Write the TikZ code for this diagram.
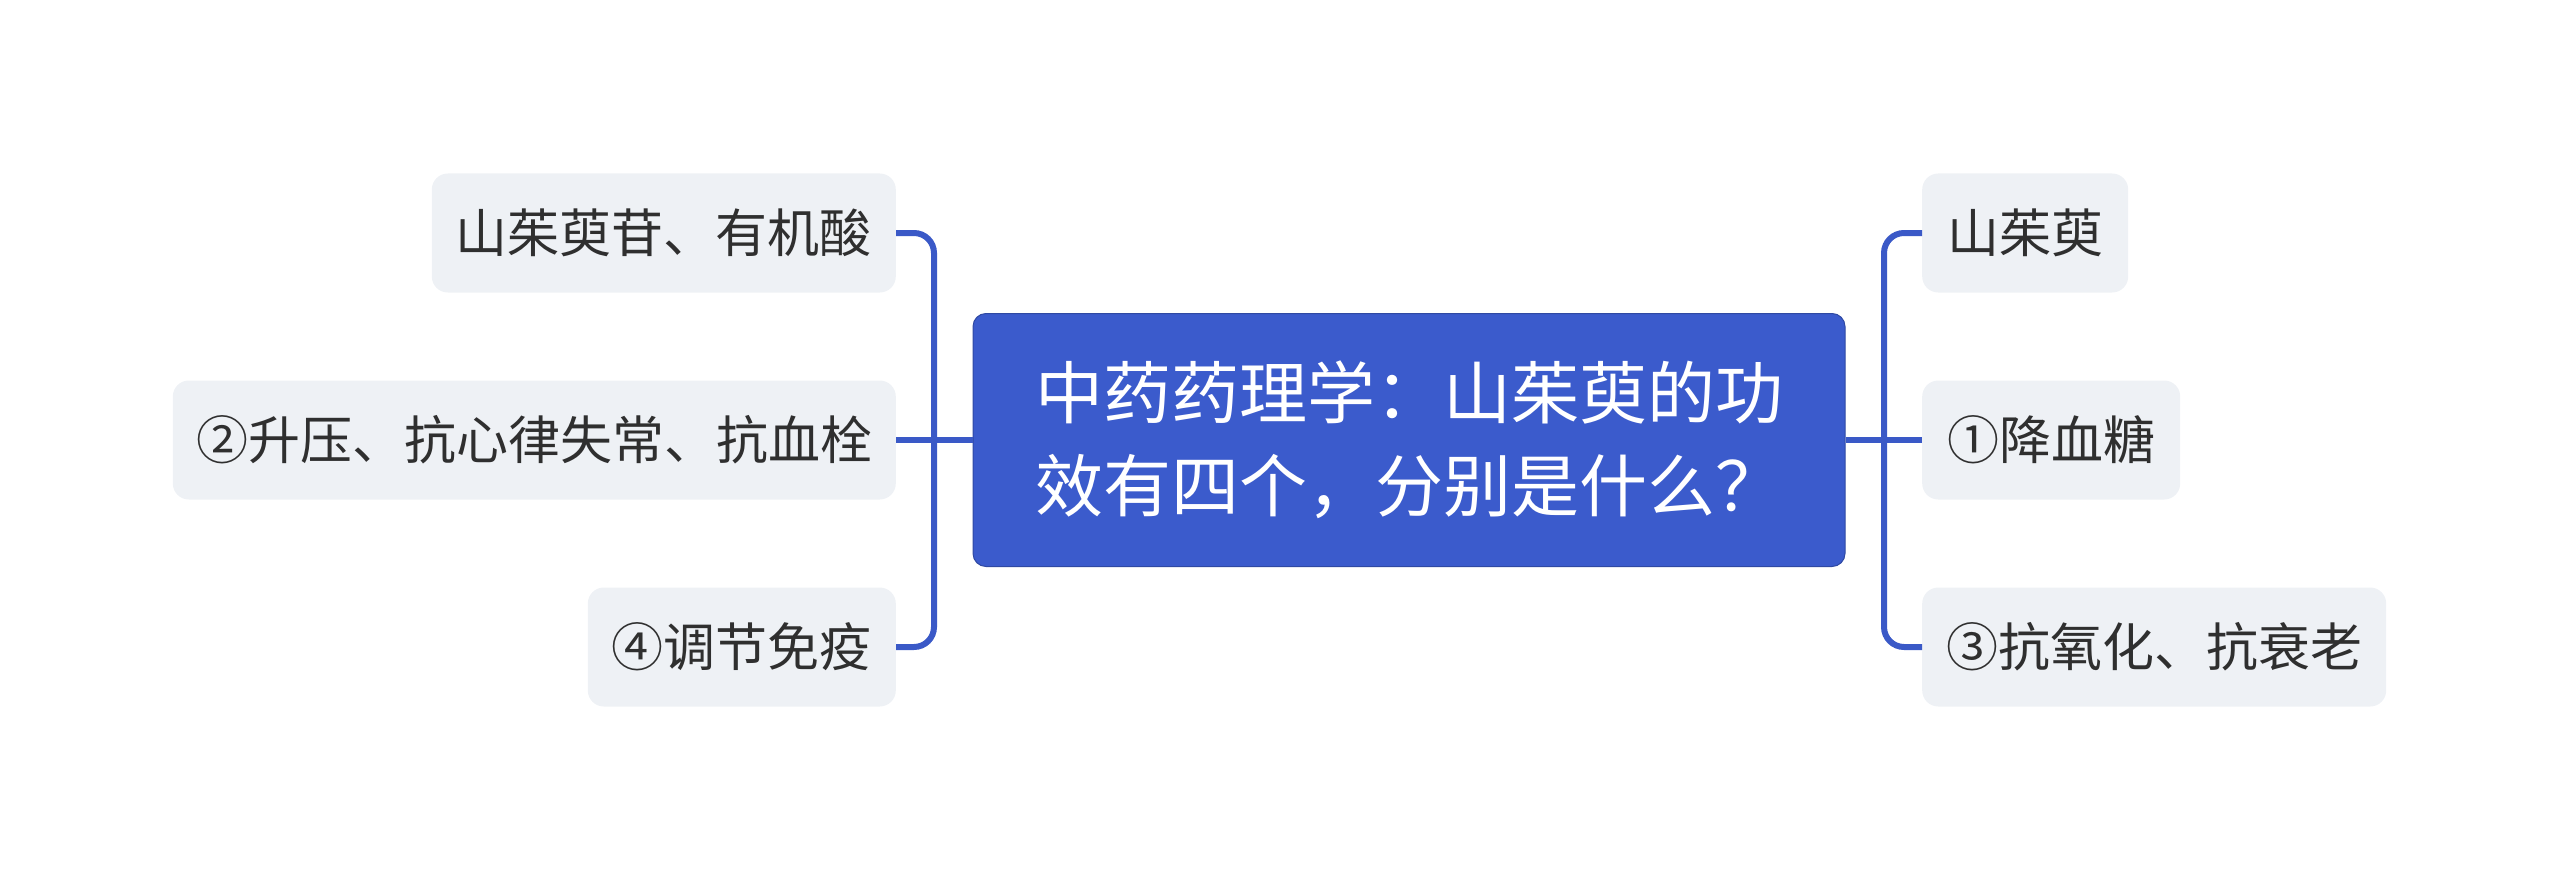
\documentclass[tikz,border=0pt]{standalone}
\usepackage{fontspec}
\newfontfamily\cjk{Noto Sans CJK SC}
\definecolor{mainblue}{HTML}{3B5BCC}
\definecolor{linkblue}{HTML}{3A59C7}
\definecolor{leaffill}{HTML}{EEF1F5}
\definecolor{txt}{HTML}{2F2F2F}
\tikzset{
  leaf/.style={fill=leaffill, rounded corners=16, minimum height=119, inner sep=0, text=txt,
    font=\cjk\fontsize{52}{62}\selectfont},
  topic/.style={fill=mainblue, draw=mainblue!80!black, line width=1, rounded corners=13, minimum width=872,
    minimum height=253, inner sep=0, text=white, align=left, font=\cjk\fontsize{68}{93}\selectfont},
  link/.style={draw=linkblue, line width=6, rounded corners=20}
}
\begin{document}
\begin{tikzpicture}[x=1pt,y=-1pt]
\useasboundingbox (0,0) rectangle (2560,880);
\node[topic] (c) at (1409,440) {中药药理学：山茱萸的功\\效有四个，分别是什么？};
\node[leaf, anchor=east, minimum width=464] (l1) at (896,233) {山茱萸苷、有机酸};
\node[leaf, anchor=east, minimum width=723] (l2) at (896,440) {②升压、抗心律失常、抗血栓};
\node[leaf, anchor=east, minimum width=308] (l3) at (896,647) {④调节免疫};
\node[leaf, anchor=west, minimum width=206] (r1) at (1922,233) {山茱萸};
\node[leaf, anchor=west, minimum width=258] (r2) at (1922,440) {①降血糖};
\node[leaf, anchor=west, minimum width=464] (r3) at (1922,647) {③抗氧化、抗衰老};
\coordinate (bl) at (934,440);
\coordinate (br) at (1884,440);
\draw[link] (c.west) -- (l2.east);
\draw[link] (l1.east) -- (bl |- l1.east) -- (bl |- l3.east) -- (l3.east);
\draw[link] (c.east) -- (r2.west);
\draw[link] (r1.west) -- (br |- r1.west) -- (br |- r3.west) -- (r3.west);
\end{tikzpicture}
\end{document}
